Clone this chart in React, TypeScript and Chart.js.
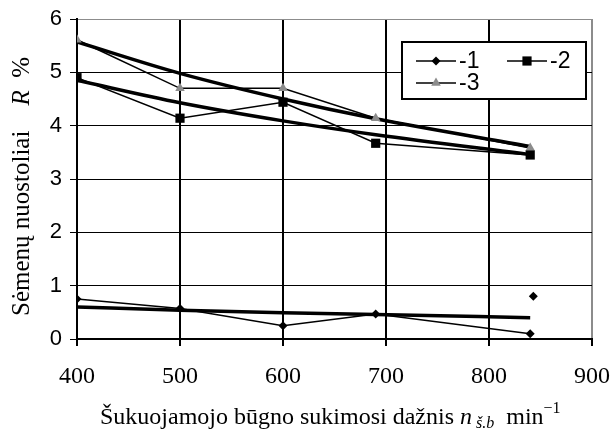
import React, { useEffect, useRef } from "react";
import { Chart, registerables } from "chart.js";

Chart.register(...registerables);

const xValues = [400, 500, 600, 690, 840];
const series1 = [0.75, 0.57, 0.25, 0.47, 0.1];
const series2 = [4.9, 4.14, 4.44, 3.67, 3.45];
const series3 = [5.61, 4.7, 4.7, 4.14, 3.58];
const trend1 = [0.6, 0.54, 0.49, 0.46, 0.4];
const trend2 = [4.85, 4.43, 4.09, 3.83, 3.46];
const trend3 = [5.57, 4.98, 4.5, 4.13, 3.61];
const extraX = [843];
const extraY = [0.8];
const legendLabels = ["-1", "-2", "-3"];
const xTicks = [400, 500, 600, 700, 800, 900];
const yTicks = [0, 1, 2, 3, 4, 5, 6];

const pts = (ys: number[], xs: number[] = xValues) => ys.map((y, i) => ({ x: xs[i], y }));

const GRAY = "#8c8c8c";
const SERIF = "'Liberation Serif', 'Times New Roman', serif";
const SANS = "'Liberation Sans', Arial, sans-serif";

function drawMarker(ctx: CanvasRenderingContext2D, style: string, x: number, y: number, r: number) {
  ctx.beginPath();
  if (style === "rect") {
    const s = Math.SQRT1_2 * r;
    ctx.rect(x - s, y - s, 2 * s, 2 * s);
  } else if (style === "rectRot") {
    ctx.moveTo(x, y - r);
    ctx.lineTo(x + r, y);
    ctx.lineTo(x, y + r);
    ctx.lineTo(x - r, y);
    ctx.closePath();
  } else {
    const h = r * 1.5;
    ctx.moveTo(x, y - h * 0.66);
    ctx.lineTo(x + r * 0.87, y + h * 0.34);
    ctx.lineTo(x - r * 0.87, y + h * 0.34);
    ctx.closePath();
  }
  ctx.fill();
}

const legendPlugin = {
  id: "boxLegend",
  afterDraw(chart: any) {
    const ctx = chart.ctx;
    ctx.save();
    const bx = 402, by = 42, bw = 184, bh = 57;
    ctx.fillStyle = "#fff";
    ctx.fillRect(bx, by, bw, bh);
    ctx.strokeStyle = "#000";
    ctx.lineWidth = 2;
    ctx.strokeRect(bx, by, bw, bh);
    const items = [
      { ds: 0, x: 416, y: 61 },
      { ds: 1, x: 507, y: 61 },
      { ds: 2, x: 416, y: 83 },
    ];
    items.forEach((it, i) => {
      const ds = chart.data.datasets[it.ds];
      ctx.strokeStyle = "#000";
      ctx.lineWidth = 1.5;
      ctx.beginPath();
      ctx.moveTo(it.x, it.y);
      ctx.lineTo(it.x + 40, it.y);
      ctx.stroke();
      ctx.fillStyle = ds.pointBackgroundColor;
      drawMarker(ctx, ds.pointStyle, it.x + 20, it.y, ds.pointRadius);
      ctx.fillStyle = "#000";
      ctx.font = `23px ${SANS}`;
      ctx.textBaseline = "middle";
      ctx.textAlign = "left";
      ctx.fillText(legendLabels[i], it.x + 43, it.y + 1);
    });
    ctx.restore();
  },
};

const titlePlugin = {
  id: "axisTitles",
  afterDraw(chart: any) {
    const ctx = chart.ctx;
    ctx.save();
    ctx.fillStyle = "#000";
    ctx.textBaseline = "alphabetic";
    ctx.textAlign = "left";
    const parts: [string, string, number][] = [
      ["Šukuojamojo būgno sukimosi dažnis ", `24px ${SERIF}`, 0],
      ["n", `italic 24px ${SERIF}`, 0],
      [" š.b", `italic 16px ${SERIF}`, 4],
      ["  min", `24px ${SERIF}`, 0],
      ["−1", `16px ${SERIF}`, -11],
    ];
    let x = 100;
    const base = 424;
    parts.forEach(([t, f, dy]) => {
      ctx.font = f;
      ctx.fillText(t, x, base + dy);
      x += ctx.measureText(t).width;
    });
    ctx.translate(29, 316);
    ctx.rotate(-Math.PI / 2);
    const yparts: [string, string][] = [
      ["Sėmenų nuostoliai    ", `25px ${SERIF}`],
      ["R", `italic 25px ${SERIF}`],
      ["  %", `25px ${SERIF}`],
    ];
    let yx = 0;
    yparts.forEach(([t, f]) => {
      ctx.font = f;
      ctx.fillText(t, yx, 0);
      yx += ctx.measureText(t).width;
    });
    ctx.restore();
  },
};

export default function App() {
  const ref = useRef<HTMLCanvasElement>(null);
  useEffect(() => {
    if (!ref.current) return;
    const lineDs = (data: number[], style: string, color: string, radius: number) => ({
      data: pts(data),
      borderColor: "#000",
      borderWidth: 1.5,
      pointStyle: style,
      pointRadius: radius,
      pointBackgroundColor: color,
      pointBorderColor: color,
      pointBorderWidth: 0,
      tension: 0,
      fill: false,
      showLine: true,
    });
    const trendDs = (data: number[]) => ({
      data: pts(data),
      borderColor: "#000",
      borderWidth: 3.5,
      pointRadius: 0,
      cubicInterpolationMode: "monotone",
      fill: false,
      showLine: true,
    });
    const chart = new Chart(ref.current, {
      type: "scatter",
      data: {
        datasets: [
          lineDs(series1, "rectRot", "#000", 4.5),
          lineDs(series2, "rect", "#000", 6.5),
          lineDs(series3, "triangle", GRAY, 5.5),
          trendDs(trend1),
          trendDs(trend2),
          trendDs(trend3),
          {
            data: pts(extraY, extraX),
            showLine: false,
            pointStyle: "rectRot",
            pointRadius: 4.5,
            pointBackgroundColor: "#000",
            pointBorderColor: "#000",
            pointBorderWidth: 0,
          },
        ] as any,
      },
      options: {
        animation: false,
        responsive: false,
        maintainAspectRatio: false,
        layout: { padding: { left: 0, right: 20, top: 19, bottom: 0 } },
        plugins: { legend: { display: false }, tooltip: { enabled: false } },
        scales: {
          x: {
            type: "linear",
            min: 400,
            max: 900,
            afterBuildTicks: (s: any) => {
              s.ticks = xTicks.map((v) => ({ value: v }));
            },
            afterFit: (s: any) => {
              s.height = 100;
              s.paddingLeft = 0;
              s.paddingRight = 0;
            },
            grid: {
              color: (c: any) => (c.tick && c.tick.value === 900 ? GRAY : "#000"),
              lineWidth: 2,
              tickLength: 7,
              tickColor: "#000",
            },
            border: { color: "#000", width: 2 },
            ticks: {
              color: "#000",
              padding: 16,
              font: { family: SERIF, size: 24 },
            },
          },
          y: {
            type: "linear",
            min: 0,
            max: 6,
            afterBuildTicks: (s: any) => {
              s.ticks = yTicks.map((v) => ({ value: v }));
            },
            afterFit: (s: any) => {
              s.width = 77;
              s.paddingTop = 0;
              s.paddingBottom = 0;
            },
            grid: {
              color: (c: any) => (c.tick && c.tick.value === 6 ? GRAY : "#000"),
              lineWidth: 1,
              tickLength: 7,
              tickColor: "#000",
            },
            border: { color: "#000", width: 2 },
            ticks: {
              color: "#000",
              padding: 8,
              font: { family: SANS, size: 22 },
            },
          },
        },
      },
      plugins: [titlePlugin, legendPlugin],
    });
    return () => chart.destroy();
  }, []);
  return (
    <div style={{ position: "fixed", left: 0, top: 0, width: 612, height: 439, background: "#fff" }}>
      <canvas ref={ref} width={612} height={439} style={{ width: 612, height: 439 }} />
    </div>
  );
}
